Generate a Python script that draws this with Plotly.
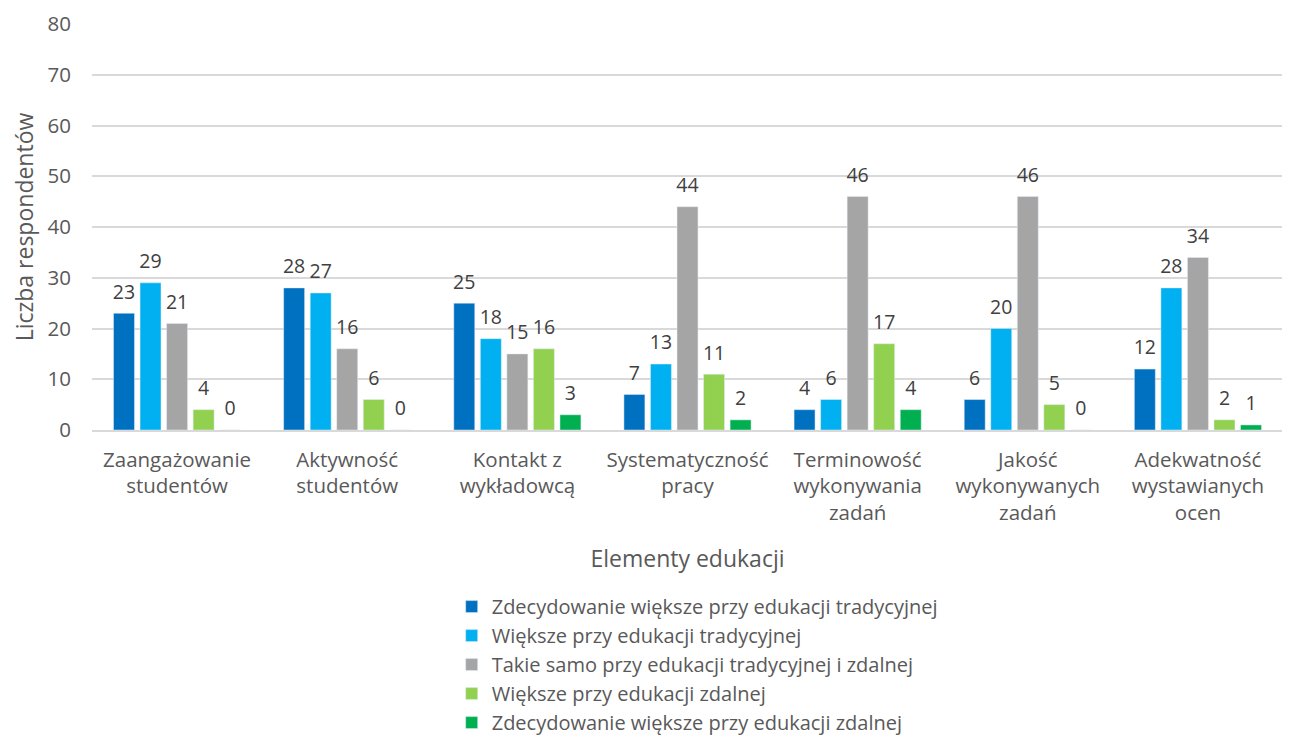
import plotly.graph_objects as go

categories = ["Zaangażowanie<br>studentów", "Aktywność<br>studentów", "Kontakt z<br>wykładowcą",
              "Systematyczność<br>pracy", "Terminowość<br>wykonywania<br>zadań",
              "Jakość<br>wykonywanych<br>zadań", "Adekwatność<br>wystawianych<br>ocen"]
series_names = ["Zdecydowanie większe przy edukacji tradycyjnej",
                "Większe przy edukacji tradycyjnej",
                "Takie samo przy edukacji tradycyjnej i zdalnej",
                "Większe przy edukacji zdalnej",
                "Zdecydowanie większe przy edukacji zdalnej"]
s1 = [23, 28, 25, 7, 4, 6, 12]
s2 = [29, 27, 18, 13, 6, 20, 28]
s3 = [21, 16, 15, 44, 46, 46, 34]
s4 = [4, 6, 16, 11, 17, 5, 2]
s5 = [0, 0, 3, 2, 4, 0, 1]
colors = ["#0070C0", "#00B0F0", "#A5A5A5", "#92D050", "#00B050"]

FONT = "Open Sans"
TXT = "#595959"
GAP = 0.22

fig = go.Figure()
for name, vals, col in zip(series_names, [s1, s2, s3, s4, s5], colors):
    fig.add_trace(go.Bar(
        x=categories, y=vals, name=name, marker_color=col,
    ))
# data labels, aligned with the grouped bars
for name, vals in zip(series_names, [s1, s2, s3, s4, s5]):
    fig.add_trace(go.Scatter(
        x=categories, y=vals, mode="markers+text", showlegend=False, hoverinfo="skip",
        marker=dict(size=14, color="rgba(0,0,0,0)"),
        text=[str(v) for v in vals], textposition="top center",
        textfont=dict(size=19.5, color="#404040", family=FONT),
        cliponaxis=False,
    ))

fig.update_layout(
    barmode="group", bargap=GAP, bargroupgap=0.21,
    scattermode="group", scattergap=GAP,
    width=1290, height=736,
    margin=dict(l=84, r=15, t=16, b=314, autoexpand=False),
    paper_bgcolor="white", plot_bgcolor="white",
    font=dict(family=FONT, color=TXT, size=18),
    xaxis=dict(title=dict(text="Elementy edukacji", font=dict(size=23, color=TXT), standoff=26),
               tickfont=dict(size=20.5, color=TXT), showline=True, linecolor="#D9D9D9", linewidth=2,
               ticks="", automargin=False, ticklabelstandoff=10),
    yaxis=dict(title=dict(text="Liczba respondentów", font=dict(size=23, color=TXT), standoff=12),
               range=[0, 80], dtick=10, tickfont=dict(size=20.5, color=TXT),
               gridcolor="#D9D9D9", gridwidth=1.5, zeroline=False, ticks="",
               automargin=False, ticklabelstandoff=20),
    legend=dict(orientation="v", x=0.302, xanchor="left", y=-0.387, yanchor="top",
                font=dict(size=20, color=TXT), tracegroupgap=0, itemwidth=30),
    showlegend=True,
)

fig.write_html("out.html")
